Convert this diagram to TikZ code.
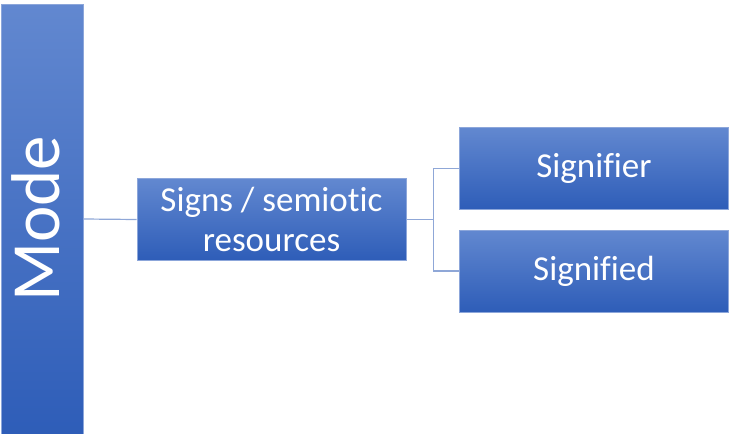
\documentclass[tikz,border=0pt]{standalone}
\usepackage{fontspec}
\setmainfont{Carlito}[Ligatures={NoCommon}]
\usetikzlibrary{positioning,calc}
\definecolor{boxtop}{RGB}{98,136,208}
\definecolor{boxbot}{RGB}{46,93,184}
\definecolor{boxedge}{RGB}{140,166,218}
\definecolor{wirecol}{RGB}{143,167,215}
\tikzset{
  box/.style  = {draw=boxedge, line width=0.8pt, top color=boxtop, bottom color=boxbot,
                 text=white, inner sep=0pt, minimum width=269pt, minimum height=82pt,
                 align=center, font=\fontsize{35}{40}\selectfont},
  modebox/.style = {draw=boxedge, line width=0.8pt, top color=boxtop, bottom color=boxbot,
                 text=white, inner sep=0pt, rotate=90, minimum width=430pt, minimum height=82pt,
                 text depth=12pt, font=\fontsize{69}{74}\selectfont},
  wire/.style = {draw=wirecol, line width=1.2pt},
}
\begin{document}
\begin{tikzpicture}[x=1pt,y=-1pt]
  \useasboundingbox (0,0) rectangle (729,434);
  \node[modebox] (mode) at (42,219) {Mode};
  \node[box] (signs) at (271.5,219.5) {Signs / semiotic\\resources};
  \node[box] (signifier) at (594,168.5) {Signifier};
  \node[box] (signified) at (594,271) {Signified};
  \coordinate (fork) at ($(signs.east)+(27,0)$);
  \draw[wire] (mode.south) -- (signs.west);
  \draw[wire] (signs.east) -- (fork);
  \draw[wire] (fork) |- (signifier.west);
  \draw[wire] (fork) |- (signified.west);
\end{tikzpicture}
\end{document}
